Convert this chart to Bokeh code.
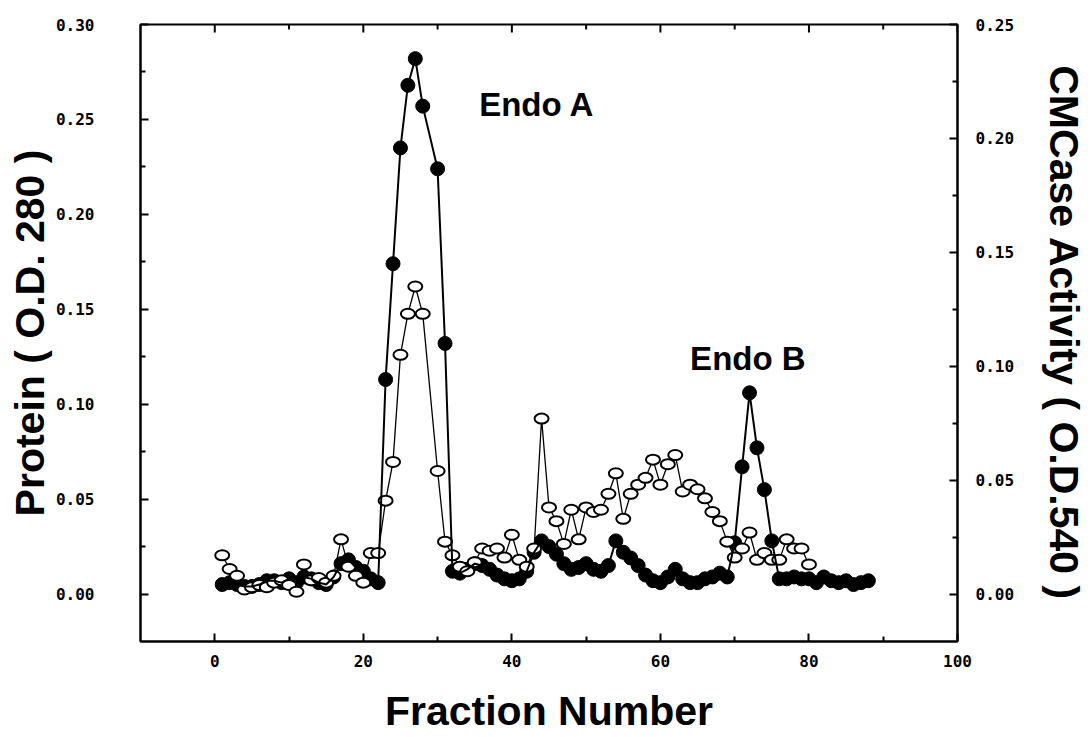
import math
from bokeh.plotting import figure
from bokeh.models import Range1d, LinearAxis, FixedTicker, Label, NumeralTickFormatter
from bokeh.embed import file_html
from bokeh.resources import INLINE

# ---------------- data ----------------
protein_fraction = [1, 2, 3, 4, 5, 6, 7, 8, 9, 10, 11, 12, 13, 14, 15, 16, 17, 18, 19, 20,
                    21, 22, 23, 24, 25, 26, 27, 28, 30, 31, 32, 33, 34, 35, 36, 37, 38, 39, 40,
                    41, 42, 43, 44, 45, 46, 47, 48, 49, 50, 51, 52, 53, 54, 55, 56, 57, 58, 59,
                    60, 61, 62, 63, 64, 65, 66, 67, 68, 69, 70, 71, 72, 73, 74, 75, 76, 77, 78,
                    79, 80, 81, 82, 83, 84, 85, 86, 87, 88]
protein_od280 = [0.005, 0.006, 0.005, 0.004, 0.004, 0.005, 0.007, 0.007, 0.006, 0.008,
                 0.006, 0.009, 0.008, 0.006, 0.005, 0.009, 0.016, 0.018, 0.014, 0.012,
                 0.008, 0.006, 0.113, 0.174, 0.235, 0.268, 0.282, 0.257, 0.224, 0.132,
                 0.012, 0.011, 0.013, 0.016, 0.015, 0.013, 0.010, 0.008, 0.007, 0.008,
                 0.012, 0.022, 0.028, 0.025, 0.021, 0.016, 0.013, 0.014, 0.016, 0.013,
                 0.012, 0.015, 0.028, 0.022, 0.019, 0.015, 0.010, 0.007, 0.006, 0.009,
                 0.013, 0.008, 0.006, 0.006, 0.008, 0.009, 0.011, 0.009, 0.027, 0.067,
                 0.106, 0.077, 0.055, 0.028, 0.008, 0.008, 0.009, 0.008, 0.008, 0.006,
                 0.009, 0.007, 0.006, 0.007, 0.005, 0.006, 0.007]

cmcase_fraction = [1, 2, 3, 4, 5, 6, 7, 8, 9, 10, 11, 12, 13, 14, 15, 16, 17, 18, 19, 20,
                   21, 22, 23, 24, 25, 26, 27, 28, 30, 31, 32, 33, 34, 35, 36, 37, 38, 39, 40,
                   41, 42, 43, 44, 45, 46, 47, 48, 49, 50, 51, 52, 53, 54, 55, 56, 57, 58, 59,
                   60, 61, 62, 63, 64, 65, 66, 67, 68, 69, 70, 71, 72, 73, 74, 75, 76, 77, 78,
                   79, 80]
cmcase_od540 = [0.017, 0.011, 0.008, 0.002, 0.003, 0.004, 0.003, 0.005, 0.006, 0.004,
                0.001, 0.013, 0.006, 0.007, 0.005, 0.008, 0.024, 0.012, 0.008, 0.005,
                0.018, 0.018, 0.041, 0.058, 0.105, 0.123, 0.135, 0.123, 0.054, 0.023,
                0.017, 0.012, 0.010, 0.014, 0.020, 0.019, 0.020, 0.016, 0.026, 0.015,
                0.012, 0.020, 0.077, 0.038, 0.032, 0.022, 0.037, 0.024, 0.038, 0.036,
                0.037, 0.044, 0.053, 0.033, 0.044, 0.048, 0.051, 0.059, 0.048, 0.057,
                0.061, 0.045, 0.048, 0.046, 0.042, 0.036, 0.032, 0.023, 0.016, 0.020,
                0.027, 0.015, 0.018, 0.015, 0.015, 0.024, 0.020, 0.020, 0.013]

x_ticks = [0, 20, 40, 60, 80, 100]
x_minor = [10, 30, 50, 70, 90]
left_ticks = [0.0, 0.05, 0.10, 0.15, 0.20, 0.25, 0.30]
left_minor = [0.025, 0.075, 0.125, 0.175, 0.225, 0.275]
right_ticks = [0.0, 0.05, 0.10, 0.15, 0.20, 0.25]
right_minor = [0.025, 0.075, 0.125, 0.175, 0.225]

x_label = "Fraction Number"
left_label = "Protein ( O.D. 280 )"
right_label = "CMCase Activity ( O.D.540 )"

# ---------------- figure ----------------
LEFT_MAX = 0.30
RIGHT_MAX = 0.25
LEFT_MIN = -0.025
RIGHT_MIN = LEFT_MIN * RIGHT_MAX / LEFT_MAX

p = figure(width=1092, height=737, output_backend="svg", toolbar_location=None,
           x_range=Range1d(-10, 100), y_range=Range1d(LEFT_MIN, LEFT_MAX),
           min_border_left=140, min_border_right=135, min_border_top=24,
           min_border_bottom=96)
p.extra_y_ranges = {"cmc": Range1d(RIGHT_MIN, RIGHT_MAX)}
p.xgrid.visible = False
p.ygrid.visible = False
p.outline_line_color = "black"
p.outline_line_width = 2
p.background_fill_color = "white"
p.border_fill_color = "white"

TICK_FONT = "DejaVu Sans Mono"
TITLE_FONT = "Liberation Sans"


def style_axis(ax):
    ax.axis_line_width = 2
    ax.axis_line_color = "black"
    ax.major_tick_in = 8
    ax.major_tick_out = 0
    ax.minor_tick_in = 5
    ax.minor_tick_out = 0
    ax.major_tick_line_width = 2
    ax.minor_tick_line_width = 2
    ax.major_tick_line_color = "black"
    ax.minor_tick_line_color = "black"
    ax.major_label_text_font = TICK_FONT
    ax.major_label_text_font_style = "bold"
    ax.major_label_text_font_size = "16px"
    ax.major_label_text_color = "black"
    ax.axis_label_text_font = TITLE_FONT
    ax.axis_label_text_font_style = "bold"
    ax.axis_label_text_font_size = "41px"
    ax.axis_label_text_color = "black"


xa = p.xaxis[0]
xa.ticker = FixedTicker(ticks=x_ticks, minor_ticks=x_minor)
style_axis(xa)
xa.axis_label = x_label
xa.major_label_standoff = 13
xa.axis_label_standoff = 18

ya = p.yaxis[0]
ya.ticker = FixedTicker(ticks=left_ticks, minor_ticks=left_minor)
ya.formatter = NumeralTickFormatter(format="0.00")
style_axis(ya)
ya.axis_label = left_label
ya.major_label_standoff = 46
ya.axis_label_standoff = 0

ra = LinearAxis(y_range_name="cmc",
                ticker=FixedTicker(ticks=right_ticks, minor_ticks=right_minor),
                formatter=NumeralTickFormatter(format="0.00"))
style_axis(ra)
ra.axis_label = right_label
ra.major_label_standoff = 18
ra.axis_label_standoff = 24
p.add_layout(ra, "right")

# inward tick marks along the top edge of the frame (no labels there)
p.scatter(x_ticks, [LEFT_MAX] * len(x_ticks), marker="dash", angle=math.pi / 2,
          size=16, line_color="black", line_width=2)
p.scatter(x_minor, [LEFT_MAX] * len(x_minor), marker="dash", angle=math.pi / 2,
          size=10, line_color="black", line_width=2)

# ---------------- data marks ----------------
p.line(cmcase_fraction, cmcase_od540, y_range_name="cmc",
       line_color="black", line_width=1.3)
p.scatter(protein_fraction, protein_od280, marker="circle", size=14,
          fill_color="black", line_color="black")
p.ellipse(x=cmcase_fraction, y=cmcase_od540, width=14, height=10,
          width_units="screen", height_units="screen", y_range_name="cmc",
          fill_color="white", line_color="black", line_width=2)
p.line(protein_fraction, protein_od280, line_color="black", line_width=2)

# ---------------- annotations ----------------
p.add_layout(Label(x=35.6, y=0.258, text="Endo A", text_font=TITLE_FONT,
                   text_font_style="bold", text_font_size="33px", text_color="black",
                   text_align="left", text_baseline="alphabetic"))
p.add_layout(Label(x=64.0, y=0.124, text="Endo  B", text_font=TITLE_FONT,
                   text_font_style="bold", text_font_size="33px", text_color="black",
                   text_align="left", text_baseline="alphabetic"))

open("out.html", "w").write(file_html(p, INLINE))
